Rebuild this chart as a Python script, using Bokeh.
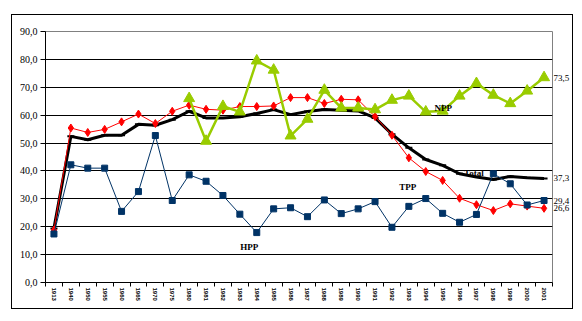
from bokeh.plotting import figure
from bokeh.models import (FactorRange, Range1d, LinearAxis, FixedTicker,
                          CustomJSTickFormatter, Label, InlineStyleSheet)
from bokeh.embed import file_html
from bokeh.resources import INLINE

years = ["1913", "1940", "1950", "1955", "1960", "1965", "1970", "1975", "1980", "1981",
         "1982", "1983", "1984", "1985", "1986", "1987", "1988", "1989", "1990", "1991",
         "1992", "1993", "1994", "1995", "1996", "1997", "1998", "1999", "2000", "2001"]

hpp = [17.4, 42.2, 41.0, 41.0, 25.5, 32.6, 52.7, 29.4, 38.6, 36.3,
       31.2, 24.5, 17.9, 26.4, 26.8, 23.6, 29.6, 24.7, 26.4, 29.0,
       19.8, 27.3, 30.1, 24.8, 21.6, 24.4, 39.0, 35.4, 27.8, 29.4]

tpp = [18.8, 55.4, 53.8, 54.9, 57.6, 60.4, 57.0, 61.4, 63.6, 62.1,
       61.8, 63.1, 63.1, 63.3, 66.3, 66.3, 64.2, 65.7, 65.5, 59.5,
       52.8, 44.7, 39.8, 36.6, 30.2, 27.9, 25.8, 28.2, 27.4, 26.6]

npp_years = ["1980", "1981", "1982", "1983", "1984", "1985", "1986", "1987", "1988", "1989",
             "1990", "1991", "1992", "1993", "1994", "1995", "1996", "1997", "1998", "1999",
             "2000", "2001"]
npp = [66.0, 50.7, 63.2, 61.2, 79.5, 76.2, 52.6, 58.6, 69.0, 62.6,
       62.6, 62.0, 65.4, 66.9, 61.2, 61.5, 66.9, 71.4, 67.2, 64.2,
       68.7, 73.5]

total = [19.4, 52.4, 51.2, 52.8, 52.8, 56.7, 56.4, 58.4, 61.4, 59.0,
         59.0, 59.4, 60.6, 62.0, 60.2, 61.3, 62.0, 61.8, 61.5, 59.0,
         53.2, 48.3, 44.1, 42.0, 39.0, 37.8, 36.9, 38.0, 37.6, 37.3]

y_ticks = [0, 10, 20, 30, 40, 50, 60, 70, 80, 90]

n = len(years)
comma_fmt = CustomJSTickFormatter(code="return tick.toFixed(1).replace('.', ',');")

p = figure(x_range=FactorRange(factors=years), y_range=Range1d(0, 90),
           width=560, height=293, output_backend="svg", toolbar_location=None,
           x_axis_location=None,
           min_border_left=33, min_border_right=17, min_border_top=16, min_border_bottom=26,
           background_fill_color="white", border_fill_color="white")
p.margin = (15, 0, 0, 12)
p.stylesheets = [InlineStyleSheet(css=":host { outline: 1px solid black; }")]

p.outline_line_color = "#808080"
p.outline_line_width = 1

# y axis
ya = p.yaxis[0]
ya.ticker = FixedTicker(ticks=y_ticks)
ya.formatter = comma_fmt
ya.major_tick_in = 0
ya.major_tick_out = 5
ya.minor_tick_line_color = None
ya.axis_line_color = "black"
ya.major_tick_line_color = "black"
ya.major_label_text_font = "Liberation Serif"
ya.major_label_text_font_size = "10px"
ya.major_label_text_color = "black"
ya.major_label_standoff = 3

# x axis: labels at category centres, tick marks at category boundaries
centres = [i + 0.5 for i in range(n)]
bounds = list(range(n + 1))
xa = LinearAxis(ticker=FixedTicker(ticks=centres, minor_ticks=bounds),
                formatter=CustomJSTickFormatter(args=dict(years=years),
                                                code="return years[Math.floor(tick)];"),
                major_tick_line_color=None, major_tick_in=0, major_tick_out=0,
                minor_tick_line_color="black", minor_tick_in=0, minor_tick_out=4,
                axis_line_color="black",
                major_label_orientation="vertical",
                major_label_text_font="Liberation Sans",
                major_label_text_font_size="6px",
                major_label_text_font_style="bold",
                major_label_text_color="black",
                major_label_standoff=1)
p.add_layout(xa, "below")

# end values as a right-hand label axis
ends = [npp[-1], total[-1], hpp[-1], tpp[-1]]
ra = LinearAxis(ticker=FixedTicker(ticks=ends), formatter=comma_fmt,
                axis_line_color=None, major_tick_line_color=None, minor_tick_line_color=None,
                major_tick_in=0, major_tick_out=0,
                major_label_text_font="Liberation Serif", major_label_text_font_size="9px",
                major_label_text_color="black", major_label_standoff=1)
p.add_layout(ra, "right")

p.xgrid.visible = False
p.ygrid.ticker = FixedTicker(ticks=y_ticks[1:-1])
p.ygrid.grid_line_color = "black"
p.ygrid.grid_line_width = 1

# series
p.line(years, total, line_color="black", line_width=3)
p.scatter(years, total, marker="dash", size=7, line_color="black", line_width=2)

p.line(years, tpp, line_color="#FF0000", line_width=1)
p.scatter(years, tpp, marker="diamond", size=8, fill_color="#FF0000", line_color="#FF0000")

p.line(years, hpp, line_color="#003366", line_width=1)
p.scatter(years, hpp, marker="square", size=6, fill_color="#003366", line_color="#003366")

p.line(npp_years, npp, line_color="#99CC00", line_width=2.5)
p.scatter(npp_years, npp, marker="triangle", size=11, fill_color="#99CC00", line_color="#99CC00")

# series name labels
name_style = dict(text_font="Liberation Serif", text_font_style="bold",
                  text_font_size="9px", text_align="center", text_baseline="middle",
                  text_color="black")
for txt, xx, yy in [("HPP", 12.06, 12.8), ("TPP", 21.44, 34.1),
                    ("Total", 25.35, 39.3), ("NPP", 23.53, 62.5)]:
    p.add_layout(Label(x=xx, y=yy, text=txt, **name_style))

open("out.html", "w").write(file_html(p, INLINE))
